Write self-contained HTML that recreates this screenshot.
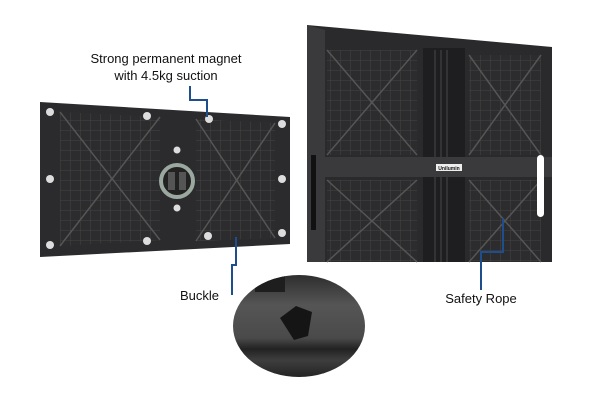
<!DOCTYPE html>
<html><head><style>
html,body{margin:0;padding:0;background:#fff;width:600px;height:400px;overflow:hidden}
svg{display:block}
text{font-family:"Liberation Sans",sans-serif;fill:#111}
</style></head><body>
<svg width="600" height="400" viewBox="0 0 600 400">
<defs>
<pattern id="g" width="10" height="10" patternUnits="userSpaceOnUse">
<rect width="10" height="10" fill="#2c2c2e"/><path d="M0 0H10M0 0V10" stroke="#444" stroke-width="1"/>
</pattern>
<linearGradient id="c" x1="0" y1="0" x2="0" y2="1">
<stop offset="0" stop-color="#2a2a2a"/><stop offset="0.3" stop-color="#555"/><stop offset="0.6" stop-color="#4a4a4a"/><stop offset="0.7" stop-color="#222"/><stop offset="0.8" stop-color="#3e3e3e"/><stop offset="1" stop-color="#1c1c1c"/>
</linearGradient>
<clipPath id="cc"><ellipse cx="299" cy="326" rx="66" ry="51"/></clipPath>
</defs>
<!-- left module -->
<polygon points="40,102 290,117 290,244 40,257" fill="#2b2b2d"/>
<polygon points="60,112 160,117 160,240 60,246" fill="url(#g)"/>
<polygon points="196,119 275,123 275,238 196,241" fill="url(#g)"/>
<path d="M60,112 L160,240 M160,117 L60,246 M196,119 L275,238 M275,123 L196,241" stroke="#555" stroke-width="1.5"/>
<circle cx="177" cy="181" r="16" fill="#222" stroke="#9aa8a0" stroke-width="4"/>
<rect x="168" y="172" width="7" height="18" fill="#555"/><rect x="179" y="172" width="7" height="18" fill="#555"/>
<g fill="#ddd"><circle cx="50" cy="112" r="4"/><circle cx="147" cy="116" r="4"/><circle cx="209" cy="119" r="4"/><circle cx="282" cy="124" r="4"/>
<circle cx="50" cy="179" r="4"/><circle cx="282" cy="179" r="4"/><circle cx="50" cy="245" r="4"/><circle cx="147" cy="241" r="4"/>
<circle cx="208" cy="236" r="4"/><circle cx="282" cy="233" r="4"/><circle cx="177" cy="150" r="3.5"/><circle cx="177" cy="208" r="3.5"/></g>
<!-- right cabinet -->
<polygon points="307,25 552,47 552,262 307,262" fill="#2a2a2c"/>
<polygon points="307,25 325,30 325,262 307,262" fill="#3a3a3c"/>
<rect x="327" y="50" width="90" height="105" fill="url(#g)"/>
<rect x="327" y="180" width="90" height="82" fill="url(#g)"/>
<rect x="469" y="55" width="72" height="100" fill="url(#g)"/>
<rect x="469" y="180" width="72" height="82" fill="url(#g)"/>
<path d="M327,50 L417,155 M417,50 L327,155 M469,55 L541,155 M541,55 L469,155 M327,180 L417,262 M417,180 L327,262 M469,180 L541,262 M541,180 L469,262" stroke="#555" stroke-width="1.5"/>
<rect x="423" y="48" width="42" height="214" fill="#1e1e20"/>
<path d="M435,50V262M441,50V262M447,50V262" stroke="#333" stroke-width="2"/>
<rect x="325" y="157" width="227" height="20" fill="#3a3a3c"/>
<rect x="436" y="164" width="26" height="7" fill="#eee"/>
<text x="449" y="170" font-size="5" text-anchor="middle" font-weight="bold">Unilumin</text>
<rect x="537" y="155" width="7" height="62" rx="3.5" fill="#fff"/>
<rect x="311" y="155" width="5" height="75" fill="#111"/>
<!-- lines -->
<path d="M190,86 V100 H207 V117" fill="none" stroke="#1f4e8c" stroke-width="2"/>
<path d="M236,237 V265 H232 V295" fill="none" stroke="#1f4e8c" stroke-width="2"/>
<path d="M503,218 V252 H481 V290" fill="none" stroke="#1f4e8c" stroke-width="2"/>
<!-- zoom circle -->
<g clip-path="url(#cc)">
<rect x="230" y="272" width="140" height="110" fill="url(#c)"/>
<rect x="255" y="272" width="30" height="20" fill="#1e1e1e"/>
<path d="M280,318 L296,306 L312,312 L308,336 L294,340 Z" fill="#151515"/>
</g>
<!-- labels -->
<text x="166" y="63" font-size="13" text-anchor="middle">Strong permanent magnet</text>
<text x="166" y="80" font-size="13" text-anchor="middle">with 4.5kg suction</text>
<text x="180" y="300" font-size="13">Buckle</text>
<text x="481" y="303" font-size="13" text-anchor="middle">Safety Rope</text>
</svg>
</body></html>
